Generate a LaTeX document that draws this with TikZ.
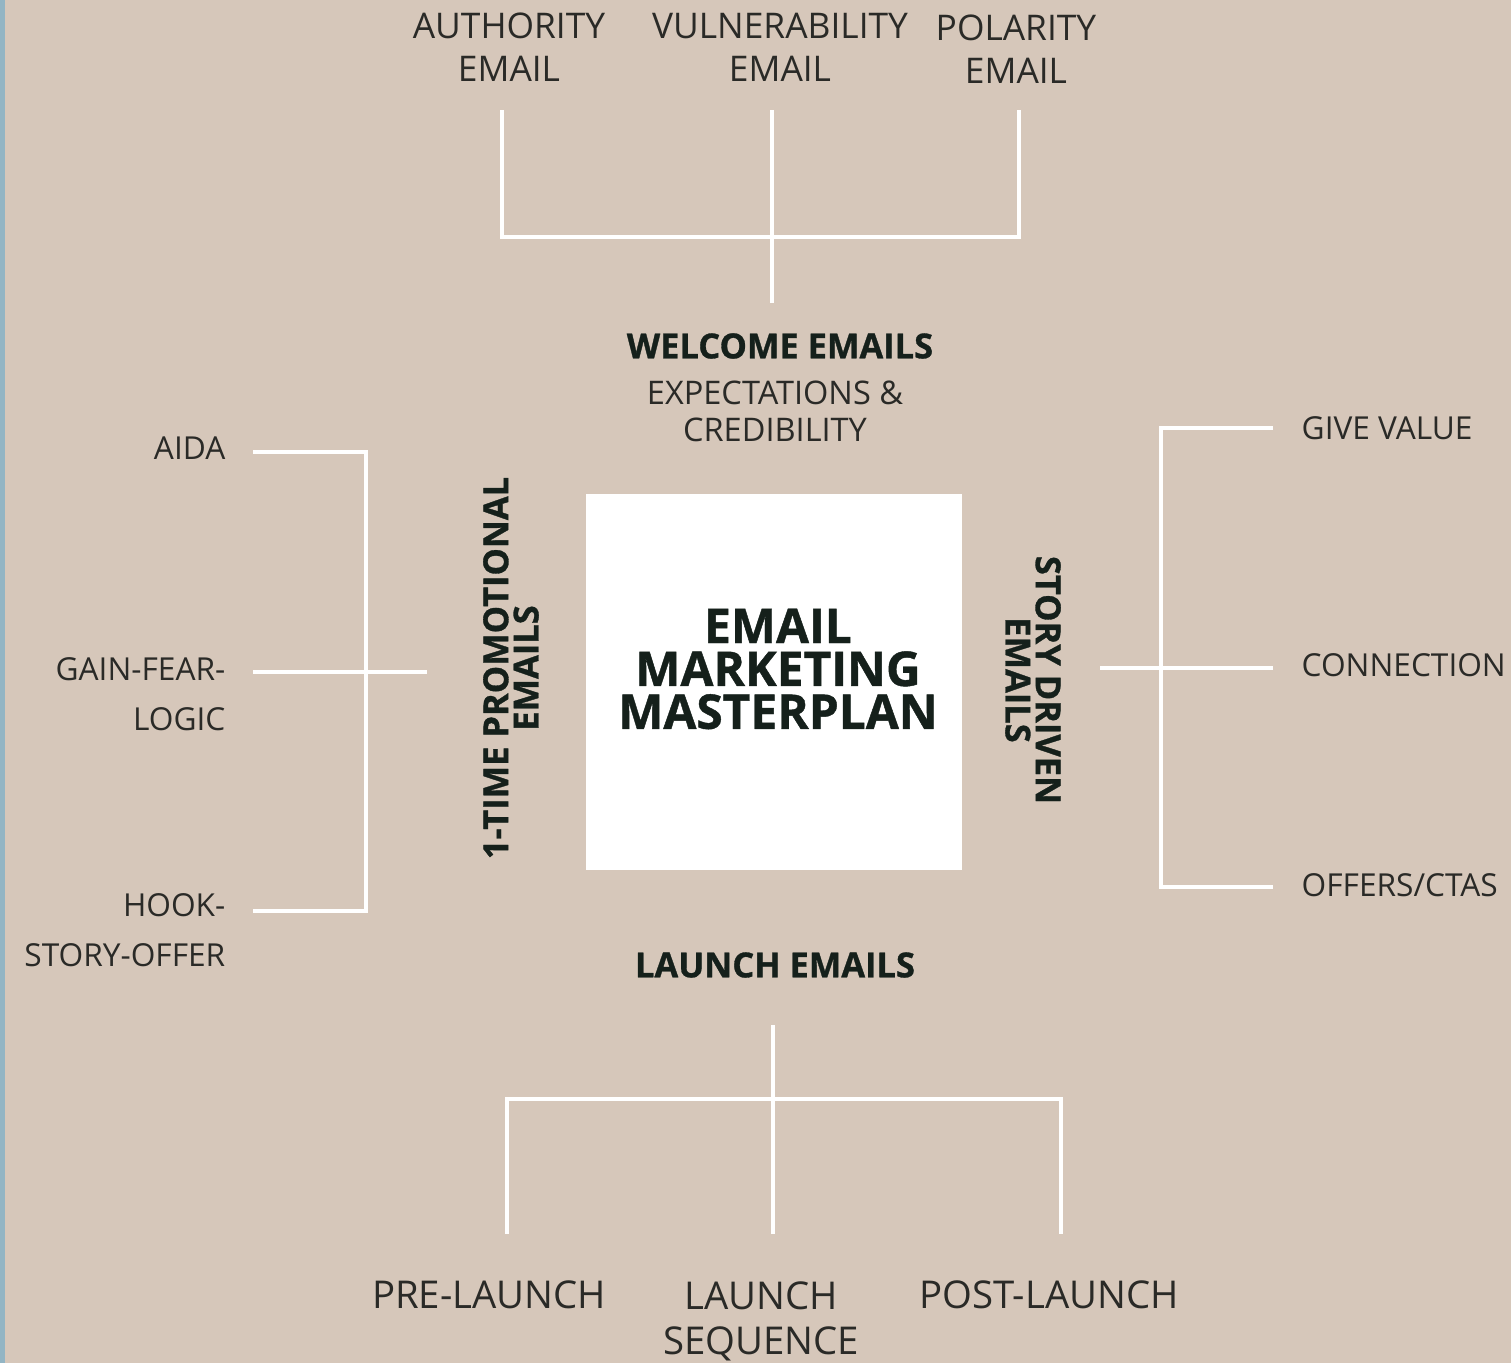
\documentclass[tikz,border=0pt]{standalone}
\usepackage{fontspec}
\setmainfont{Open Sans}
\newfontfamily\heavyfont{Open Sans}[BoldFeatures={FakeBold=0.9}]
\usetikzlibrary{positioning}

\definecolor{sand}{HTML}{D6C7BA}
\definecolor{edgeblue}{HTML}{93B5C4}
\definecolor{inkdark}{HTML}{15201B}
\definecolor{inkgrey}{HTML}{2A2A27}

\begin{document}
\begin{tikzpicture}[
  x=0.01cm, y=-0.01cm,
  item/.style={inner sep=0pt, align=center, text=inkgrey,
               font=\fontsize{9}{12.2}\selectfont},
  head/.style={inner sep=0pt, align=center, text=inkdark,
               font=\heavyfont\bfseries\fontsize{9.8}{8.6}\selectfont},
  hub/.style={fill=white, minimum size=3.76cm, inner sep=0pt},
  branch/.style={draw=white, line width=1.4pt}
]
  % background and side strip
  \fill[sand] (0,0) rectangle (1511,1363);
  \fill[edgeblue] (0,0) rectangle (5,1363);
  \useasboundingbox (0,0) rectangle (1511,1363);

  \node[hub] (hub) at (774,682) {};
  \node[inner sep=0pt, align=center, text=inkdark,
        font=\heavyfont\bfseries\fontsize{13.6}{12.2}\selectfont] (title) at (778,669)
        {EMAIL\\MARKETING\\MASTERPLAN};

  % top branch
  \node[item, font=\fontsize{10.05}{12.2}\selectfont] (auth) at (509,47) {AUTHORITY\\EMAIL};
  \node[item, font=\fontsize{10.05}{12.2}\selectfont] (vuln) at (780,47) {VULNERABILITY\\EMAIL};
  \node[item, font=\fontsize{10.05}{12.2}\selectfont] (pola) at (1016,49) {POLARITY\\EMAIL};
  \node[head] (welcome) at (780,346) {WELCOME EMAILS};
  \node[item, font=\fontsize{9.25}{10.5}\selectfont] (expect) at (775,411)
        {EXPECTATIONS \&\\CREDIBILITY};

  \coordinate (t1) at (502,110);
  \coordinate (t2) at (772,110);
  \coordinate (t3) at (1019,110);
  \coordinate (tj) at (772,237);
  \coordinate (tb) at (772,303);
  \draw[branch] (t1) |- (tj) -| (t3);
  \draw[branch] (t2) -- (tb);

  % left branch
  \node[head, rotate=90] (promo) at (511,668) {1-TIME PROMOTIONAL\\EMAILS};
  \node[item, anchor=east, align=right] (aida) at (226,448) {AIDA};
  \node[item, anchor=east, align=right, font=\fontsize{9}{14.2}\selectfont] (gain) at (226,694)
        {GAIN-FEAR-\\LOGIC};
  \node[item, anchor=east, align=right, font=\fontsize{9}{14.2}\selectfont] (hook) at (226,930)
        {HOOK-\\STORY-OFFER};

  \coordinate (l1) at (253,452);
  \coordinate (l2) at (253,672);
  \coordinate (l3) at (253,911);
  \coordinate (lj) at (366,672);
  \coordinate (lb) at (427,672);
  \draw[branch] (l1) -| (lj) |- (l3);
  \draw[branch] (l2) -- (lb);

  % right branch
  \node[head, rotate=-90] (story) at (1033,680) {STORY DRIVEN\\EMAILS};
  \node[item, anchor=west] (give) at (1301,428) {GIVE VALUE};
  \node[item, anchor=west] (conn) at (1301,665) {CONNECTION};
  \node[item, anchor=west] (offer) at (1301,885) {OFFERS/CTAS};

  \coordinate (r1) at (1273,428);
  \coordinate (r2) at (1273,668);
  \coordinate (r3) at (1273,887);
  \coordinate (rj) at (1161,668);
  \coordinate (rb) at (1100,668);
  \draw[branch] (r1) -| (rj) |- (r3);
  \draw[branch] (r2) -- (rb);

  % bottom branch
  \node[head] (launch) at (775,965) {LAUNCH EMAILS};
  \node[item, font=\fontsize{10.9}{12.8}\selectfont] (pre) at (489,1295) {PRE-LAUNCH};
  \node[item, font=\fontsize{10.9}{12.8}\selectfont] (seq) at (761,1321) {LAUNCH\\SEQUENCE};
  \node[item, font=\fontsize{10.9}{12.8}\selectfont] (post) at (1049,1295) {POST-LAUNCH};

  \coordinate (b1) at (507,1234);
  \coordinate (b2) at (773,1234);
  \coordinate (b3) at (1061,1234);
  \coordinate (bj) at (773,1099);
  \coordinate (bt) at (773,1025);
  \draw[branch] (b1) |- (bj) -| (b3);
  \draw[branch] (bt) -- (b2);
\end{tikzpicture}
\end{document}
